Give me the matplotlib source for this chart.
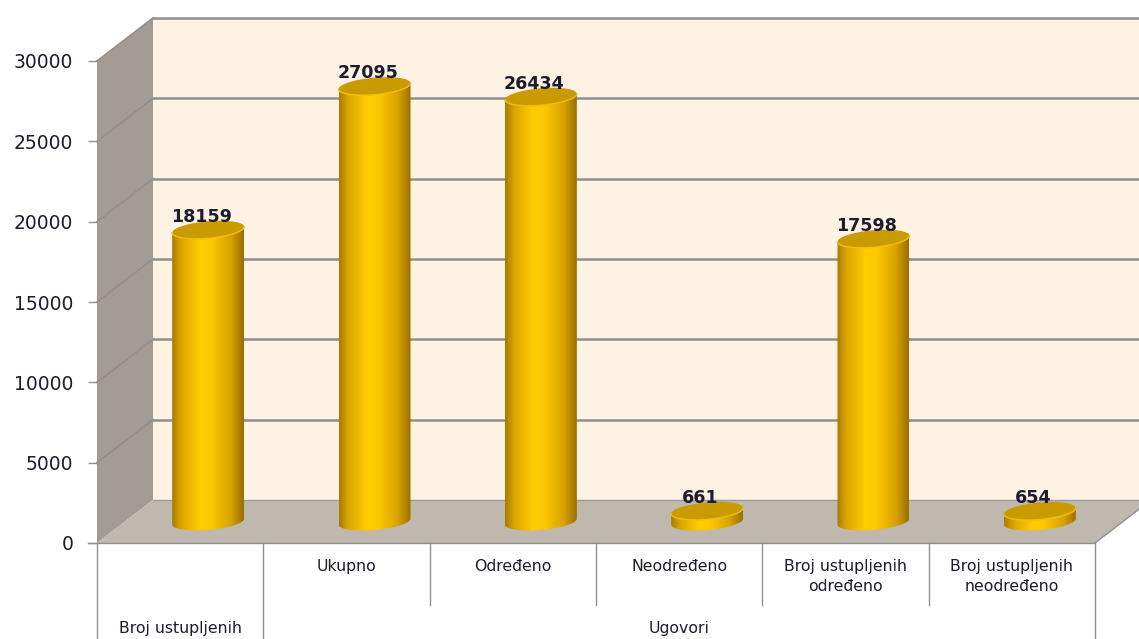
import numpy as np
import matplotlib.pyplot as plt
from matplotlib.patches import Polygon
from matplotlib.colors import LinearSegmentedColormap

# data
categories = ['', 'Ukupno', 'Određeno', 'Neodređeno',
              'Broj ustupljenih\nodređeno', 'Broj ustupljenih\nneodređeno']
values = [18159, 27095, 26434, 661, 17598, 654]
groups = ['Broj ustupljenih', 'Ugovori']
group_first = [0, 1]
group_last = [0, 5]
yticks = [0, 5000, 10000, 15000, 20000, 25000, 30000]

W, H = 1139, 639
TXT = '#1c1c2c'
GRID = '#8f8f8f'

plt.rcParams['font.family'] = ['DejaVu Sans']

fig = plt.figure(figsize=(W / 100, H / 100), dpi=100)
ax = fig.add_axes([97 / W, 96 / H, 998 / W, 482 / H])
n = len(values)
ymax = yticks[-1]
ax.set_xlim(-0.5, n - 0.5)
ax.set_ylim(0, ymax)

# pixel -> data scale
sx = 998 / n
sy = 482 / ymax
# depth of the fake 3d box
DX = 56 / sx
DY = 43 / sy
x0, x1 = -0.5, n - 0.5

# walls and floor
back = Polygon([(x0 + DX, DY), (x1 + DX, DY), (x1 + DX, ymax + DY), (x0 + DX, ymax + DY)],
               closed=True, fc='#fdf2e3', ec='none', zorder=0, clip_on=False)
side = Polygon([(x0, 0), (x0 + DX, DY), (x0 + DX, ymax + DY), (x0, ymax)],
               closed=True, fc='#a39b94', ec='none', zorder=0, clip_on=False)
floor = Polygon([(x0, 0), (x0 + DX, DY), (x1 + DX, DY), (x1, 0)],
                closed=True, fc='#bfb8af', ec='none', zorder=0.5, clip_on=False)
for p in (back, side, floor):
    ax.add_patch(p)
ax.plot([x1, x1 + DX], [0, DY], color=GRID, lw=1, clip_on=False, zorder=0.6)

for v in yticks:
    if v == 0:
        ax.plot([x0 + DX, x1 + DX], [DY, DY], color='#9a9a9a', lw=1, clip_on=False, zorder=0.7)
        continue
    ax.plot([x0 + DX, x1 + DX], [v + DY, v + DY], color=GRID, lw=1.8, clip_on=False, zorder=0.3)
    ax.plot([x0, x0 + DX], [v, v + DY], color=GRID, lw=1.2, clip_on=False, zorder=0.3)

# cylinders
cmap = LinearSegmentedColormap.from_list('gold', [
    (0.0, '#a87c00'), (0.12, '#d9a400'), (0.38, '#ffcc00'),
    (0.55, '#fdc800'), (0.82, '#d8a200'), (1.0, '#9a6f00')])
a = 36 / sx
b = 8.5 / sy
k = 3 / sy
t = np.linspace(0, np.pi, 60)
tt = np.linspace(0, 2 * np.pi, 120)
grad = np.linspace(0, 1, 200).reshape(1, -1)
for i, v in enumerate(values):
    cx = i + DX / 2
    y0 = DY / 2
    y1 = v + DY / 2
    bx = cx - a * np.cos(t)
    by = y0 - b * np.sin(t) + k * (bx - cx) / a
    body = np.vstack([np.column_stack([bx, by]),
                      [[cx + a, y1 + k], [cx - a, y1 - k]]])
    poly = Polygon(body, closed=True, fc='none', ec='none')
    ax.add_patch(poly)
    im = ax.imshow(grad, cmap=cmap, aspect='auto', interpolation='bilinear',
                   extent=[cx - a, cx + a, y0 - b - k, y1 + b + k], zorder=2)
    im.set_clip_path(poly)
    ex = cx + a * np.cos(tt)
    ey = y1 + b * np.sin(tt) + k * np.cos(tt)
    ax.add_patch(Polygon(np.column_stack([ex, ey]), closed=True, fc='#c99b00',
                         ec='none', zorder=3))
    rx = cx - a * np.cos(t)
    ry = y1 - b * np.sin(t) + k * (rx - cx) / a
    ax.plot(rx, ry, color='#f0bf10', lw=1, zorder=3.1)
    ax.text(cx - 0.04, y1 + 4 / sy, str(v), ha='center', va='bottom',
            fontsize=12.6, fontweight='bold', color=TXT, zorder=4)

ax.set_xlim(x0, x1)
ax.set_ylim(0, ymax)

# y axis
for s in ax.spines.values():
    s.set_visible(False)
ax.set_yticks(yticks)
ax.set_yticklabels([str(v) for v in yticks])
ax.tick_params(axis='y', length=6.5, width=1, color=GRID, pad=10.5,
               labelsize=13.5, labelcolor=TXT)
ax.set_xticks([])
ax.plot([x0 - 9 / sx, x1], [0, 0], color=GRID, lw=1, clip_on=False, zorder=5)

# category table under the chart
tr = ax.get_xaxis_transform()
row1 = -62 / 482
for i in range(n + 1):
    xb = x0 + i
    bottom = -100 / 482 if (i == 0 or i == n or i in group_first) else row1
    ax.plot([xb, xb], [0, bottom], color=GRID, lw=1, transform=tr, clip_on=False)

for i, c in enumerate(categories):
    ax.text(i, -16 / 482, c, ha='center', va='top', fontsize=11.3, color=TXT,
            linespacing=1.45, transform=tr)
for g, f, l in zip(groups, group_first, group_last):
    ax.text((f + l) / 2, -78 / 482, g, ha='center', va='top', fontsize=11.3,
            color=TXT, transform=tr)

fig.savefig('out.png', dpi=100)
